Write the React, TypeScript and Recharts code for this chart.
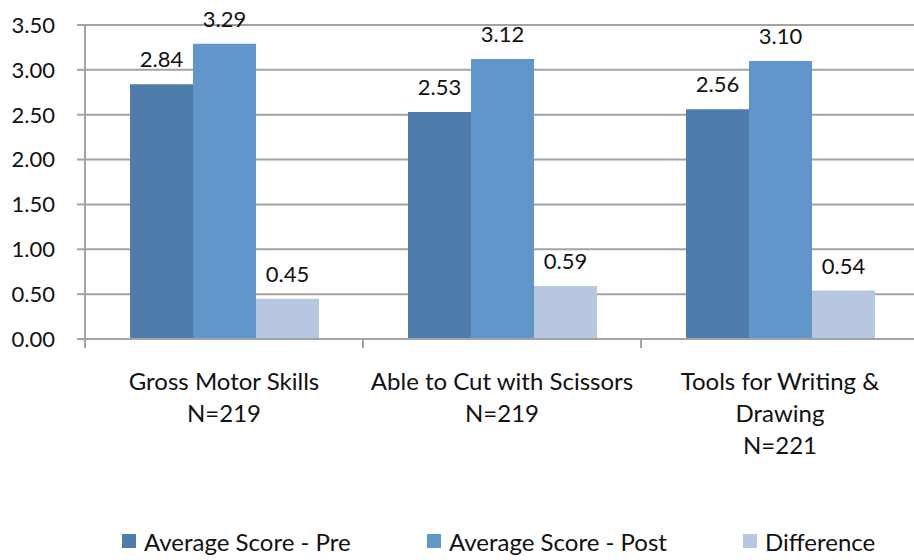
import { BarChart, Bar, XAxis, YAxis, CartesianGrid, LabelList } from 'recharts';

const CATEGORIES = ['Gross Motor Skills', 'Able to Cut with Scissors', 'Tools for Writing & Drawing'];
const CATEGORY_LINES = [
  ['Gross Motor Skills', 'N=219'],
  ['Able to Cut with Scissors', 'N=219'],
  ['Tools for Writing &', 'Drawing', 'N=221'],
];
const PRE = [2.84, 2.53, 2.56];
const POST = [3.29, 3.12, 3.1];
const DIFF = [0.45, 0.59, 0.54];
const Y_TICKS = [0, 0.5, 1, 1.5, 2, 2.5, 3, 3.5];

const SERIES = [
  { key: 'pre', name: 'Average Score - Pre', color: '#4f7cad' },
  { key: 'post', name: 'Average Score - Post', color: '#6096c9' },
  { key: 'diff', name: 'Difference', color: '#b7c6e1' },
];
const LEGEND_X = [122, 427, 743];

const data = CATEGORIES.map((c, i) => ({ name: c, pre: PRE[i], post: POST[i], diff: DIFF[i] }));

const FONT = 'Lato, "Open Sans", sans-serif';
const GRID = '#a3a3a3';
const CHART_W = 920;
const Y_W = 85;
const BAND = (CHART_W - Y_W - 1) / CATEGORIES.length;

function CategoryTick(props: any) {
  const { x, y, index } = props;
  const lines = CATEGORY_LINES[index] ?? [];
  return (
    <g>
      <line x1={x - BAND / 2} x2={x - BAND / 2} y1={y} y2={y + 9} stroke={GRID} strokeWidth={2} />
      <text x={x} y={y} textAnchor="middle" fontSize={24} fontFamily={FONT} fill="#111">
        {lines.map((l, i) => (
          <tspan key={i} x={x} dy={i === 0 ? 51 : 32}>
            {l}
          </tspan>
        ))}
      </text>
    </g>
  );
}

export default function App() {
  return (
    <div style={{ position: 'fixed', left: 0, top: 0, width: 914, height: 560, overflow: 'hidden', background: '#fff', fontFamily: FONT }}>
      <BarChart
        width={CHART_W}
        height={560}
        data={data}
        margin={{ top: 25, right: 1, left: 0, bottom: 0 }}
        barCategoryGap={45}
        barGap={0}
      >
        <CartesianGrid vertical={false} stroke={GRID} strokeWidth={2} />
        <XAxis
          dataKey="name"
          height={221}
          tick={<CategoryTick />}
          tickLine={false}
          tickSize={0}
          tickMargin={0}
          interval={0}
          axisLine={{ stroke: GRID, strokeWidth: 2 }}
        />
        <YAxis
          width={Y_W}
          domain={[0, 3.5]}
          ticks={Y_TICKS}
          tickFormatter={(v: number) => v.toFixed(2)}
          tick={{ fontSize: 22, fontFamily: FONT, fill: '#111' }}
          tickSize={8}
          tickMargin={22}
          tickLine={{ stroke: GRID, strokeWidth: 2 }}
          axisLine={{ stroke: GRID, strokeWidth: 2 }}
        />
        {SERIES.map((s) => (
          <Bar key={s.key} dataKey={s.key} name={s.name} fill={s.color} isAnimationActive={false}>
            <LabelList
              dataKey={s.key}
              position="top"
              offset={17}
              formatter={(v: any) => Number(v).toFixed(2)}
              style={{ fontSize: 22, fontFamily: FONT, fill: '#111' }}
            />
          </Bar>
        ))}
      </BarChart>
      <div style={{ position: 'absolute', top: 529, left: 0, width: 914, height: 24 }}>
        {SERIES.map((s, i) => (
          <div
            key={s.key}
            style={{ position: 'absolute', left: LEGEND_X[i], top: 0, display: 'flex', alignItems: 'center', height: 24 }}
          >
            <span style={{ width: 14, height: 14, background: s.color, display: 'inline-block', marginRight: 8 }} />
            <span style={{ fontSize: 24, color: '#111', whiteSpace: 'nowrap' }}>{s.name}</span>
          </div>
        ))}
      </div>
    </div>
  );
}
